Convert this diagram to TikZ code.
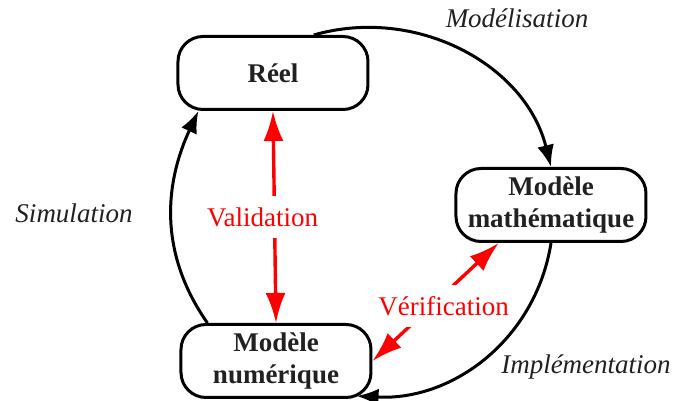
\documentclass[tikz,border=0pt]{standalone}
\usepackage{fontspec}
\setmainfont{Liberation Serif}
\usetikzlibrary{arrows.meta,calc}

\begin{document}
\begin{tikzpicture}
        [
            x = 0.5pt, y = 0.5pt,
            every node/.append style = {font = \fontsize{13.5}{16}\selectfont},
            etat/.style = {draw, line width = 1.5pt, rounded corners = 12.5pt, minimum width = 95pt, minimum height = 36.5pt, inner sep = 3pt, align = center, font = \fontsize{13.5}{16}\selectfont\bfseries, text = black!87},
            cycle/.style = {line width = 1.5pt, -{Latex[length = 11pt, width = 8.5pt]}},
            controle/.style = {red, line width = 1.7pt, {Latex[length = 15pt, width = 10pt]}-{Latex[length = 15pt, width = 10pt]}},
            etiquette/.style = {font = \fontsize{13.5}{16}\selectfont\itshape, text = black!87},
            rouge/.style = {text = red, fill = white, inner xsep = 2pt, inner ysep = 5.5pt}]
        \useasboundingbox (0,0) rectangle (677,401);
        \node[etat] (reel) at (273,328) {Réel};
        \node[etat] (math) at (551,196) {Modèle\\mathématique};
        \node[etat] (num) at (276,40) {Modèle\\numérique};
        \draw[cycle] (reel.43) to[out=16, in=104] (math.north);
        \draw[cycle] (math.south) to[out=-99, in=-3] ($(num.south east)+(-16,3)$);
        \draw[cycle] (num.151) to[out=125, in=-115] (reel.207);
        \draw[controle] (reel.south) -- node[rouge, xshift=-6pt] {Validation} (num.north);
        \draw[controle] (math.-144) -- node[rouge, xshift=4pt, yshift=-2pt] {Vérification} (num.east);
        \node[etiquette] (modelisation) at (517,383) {Modélisation};
        \node[etiquette] (simulation) at (74,188) {Simulation};
        \node[etiquette] (implementation) at (586,34) {Implémentation};
\end{tikzpicture}
\end{document}
